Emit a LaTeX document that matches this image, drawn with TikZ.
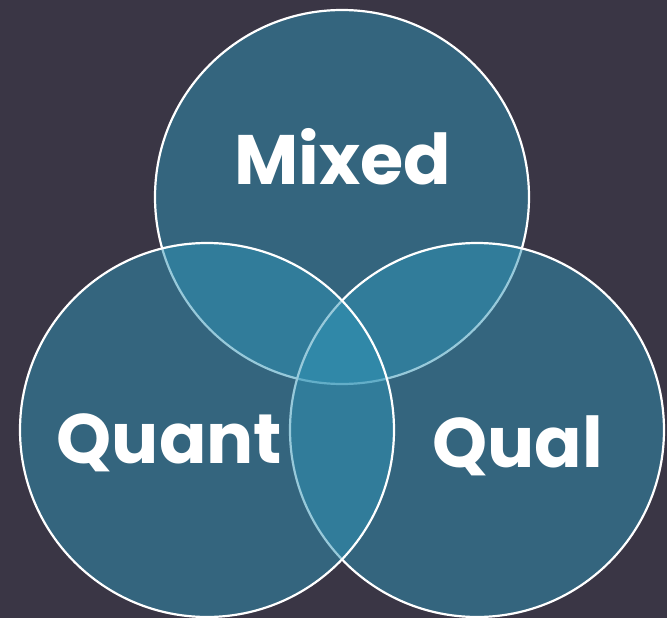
\documentclass[tikz,border=0pt]{standalone}
\usepackage{fontspec}
\setmainfont{Poppins}[UprightFont=* Bold]
\definecolor{bgc}{RGB}{58,54,69}
\definecolor{circc}{RGB}{48,148,183}
\begin{document}
\begin{tikzpicture}[x=1pt,y=-1pt,
  venn/.style={circle, minimum size=374pt, inner sep=0pt, fill=circc, fill opacity=0.5, draw=white, draw opacity=1, line width=2.2pt},
  lbl/.style={text=white, font=\fontsize{70}{70}\selectfont, anchor=base, inner sep=0pt}]
\fill[bgc] (0,0) rectangle (667,618);
\useasboundingbox (0,0) rectangle (667,618);
\node[venn] (top) at (342,197) {};
\node[venn] (right) at (477,430) {};
\node[venn] (left) at (207,430) {};
\node[lbl] (mixed) at (342.5,184) {Mixed};
\node[lbl] (quant) at (169.5,463) {Quant};
\node[lbl] (qual) at (517.5,467) {Qual};
\end{tikzpicture}
\end{document}
